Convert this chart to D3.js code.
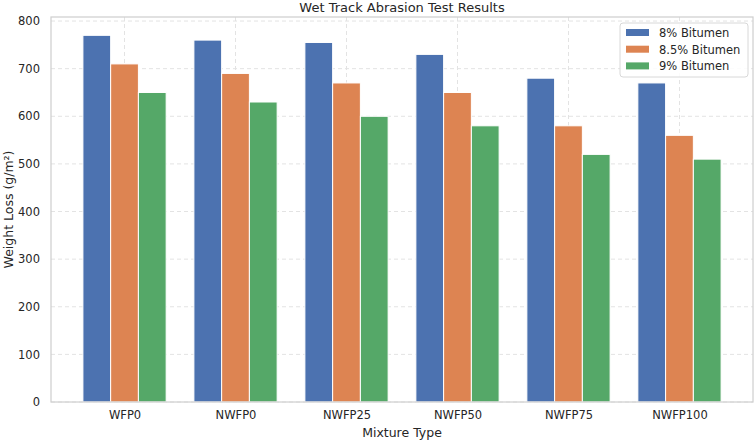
<!DOCTYPE html>
<html>
<head>
<meta charset="utf-8">
<script src="https://cdnjs.cloudflare.com/ajax/libs/d3/7.8.5/d3.min.js"></script>
<style>
  body { margin: 0; background: #fff; }
  svg { display: block; font-family: "DejaVu Sans", sans-serif; }
</style>
</head>
<body>
<svg id="chart" width="755" height="441"></svg>
<script>
var categories = ["WFP0", "NWFP0", "NWFP25", "NWFP50", "NWFP75", "NWFP100"];
var seriesNames = ["8% Bitumen", "8.5% Bitumen", "9% Bitumen"];
var bitumen8 = [770, 760, 755, 730, 680, 670];
var bitumen85 = [710, 690, 670, 650, 580, 560];
var bitumen9 = [650, 630, 600, 580, 520, 510];
var yTicks = [0, 100, 200, 300, 400, 500, 600, 700, 800];
var colors = ["#4c72b0", "#dd8452", "#55a868"];

var series = [bitumen8, bitumen85, bitumen9];

var svg = d3.select("#chart"),
    margin = {top: 17, left: 51, right: 2, bottom: 39},
    width = 755 - margin.left - margin.right,
    height = 441 - margin.top - margin.bottom,
    g = svg.append("g").attr("transform", "translate(" + margin.left + "," + margin.top + ")");

var barW = 0.25;
// matplotlib-like autoscale with 5% margins
var x = d3.scaleLinear()
    .domain([-0.6625, categories.length - 1 + 0.6625])
    .range([0, width]);

var y = d3.scaleLinear()
    .domain([0, 808.5])
    .range([height, 0]);

// grid
g.append("g").selectAll("line")
    .data(yTicks)
    .enter().append("line")
    .attr("x1", 0).attr("x2", width)
    .attr("y1", function(d) { return y(d); })
    .attr("y2", function(d) { return y(d); })
    .attr("stroke", "#e3e3e3")
    .attr("stroke-width", 1)
    .attr("stroke-dasharray", "4,3");

g.append("g").selectAll("line")
    .data(d3.range(categories.length))
    .enter().append("line")
    .attr("x1", function(d) { return x(d); })
    .attr("x2", function(d) { return x(d); })
    .attr("y1", 0).attr("y2", height)
    .attr("stroke", "#e3e3e3")
    .attr("stroke-width", 1)
    .attr("stroke-dasharray", "4,3");

// bars
series.forEach(function(vals, si) {
    g.append("g")
        .attr("class", "bar")
        .selectAll("rect")
        .data(vals)
        .enter().append("rect")
        .attr("fill", colors[si])
        .attr("stroke", "#fff")
        .attr("stroke-width", 1)
        .attr("x", function(d, i) { return x(i + (si - 1) * barW - barW / 2); })
        .attr("y", function(d) { return y(d); })
        .attr("width", x(barW) - x(0))
        .attr("height", function(d) { return y(0) - y(d); });
});

// axes
var xAxis = g.append("g")
    .attr("transform", "translate(0," + height + ")")
    .call(d3.axisBottom(x).tickValues(d3.range(categories.length))
        .tickFormat(function(d) { return categories[d]; }).tickSize(0).tickPadding(9));

var yAxis = g.append("g")
    .call(d3.axisLeft(y).tickValues(yTicks).tickSize(0).tickPadding(11));

[xAxis, yAxis].forEach(function(a) {
    a.select(".domain").remove();
    a.selectAll("text")
        .attr("fill", "#262626")
        .style("font-size", "11.5px")
        .style("font-family", "'DejaVu Sans', sans-serif");
});

// spines
g.append("rect")
    .attr("x", 0).attr("y", 0)
    .attr("width", width).attr("height", height)
    .attr("fill", "none")
    .attr("stroke", "#d0d0d0")
    .attr("stroke-width", 1.25);

// title and labels
svg.append("text")
    .attr("x", margin.left + width / 2)
    .attr("y", 12)
    .attr("text-anchor", "middle")
    .attr("fill", "#262626")
    .style("font-size", "13px")
    .text("Wet Track Abrasion Test Results");

svg.append("text")
    .attr("x", margin.left + width / 2)
    .attr("y", 437)
    .attr("text-anchor", "middle")
    .attr("fill", "#262626")
    .style("font-size", "12.5px")
    .text("Mixture Type");

svg.append("text")
    .attr("transform", "translate(13," + (margin.top + height / 2) + ") rotate(-90)")
    .attr("text-anchor", "middle")
    .attr("fill", "#262626")
    .style("font-size", "12.5px")
    .text("Weight Loss (g/m²)");

// legend
var legend = svg.append("g").attr("transform", "translate(620,23)");
legend.append("rect")
    .attr("width", 128).attr("height", 54)
    .attr("rx", 3)
    .attr("fill", "#fff")
    .attr("fill-opacity", 0.85)
    .attr("stroke", "#d8d8d8");

seriesNames.forEach(function(name, i) {
    var row = legend.append("g").attr("transform", "translate(0," + (10 + i * 16.7) + ")");
    row.append("rect")
        .attr("x", 6).attr("y", -4)
        .attr("width", 23).attr("height", 7)
        .attr("fill", colors[i]);
    row.append("text")
        .attr("x", 39).attr("y", 4)
        .attr("fill", "#262626")
        .style("font-size", "11.5px")
        .text(name);
});
</script>
</body>
</html>
